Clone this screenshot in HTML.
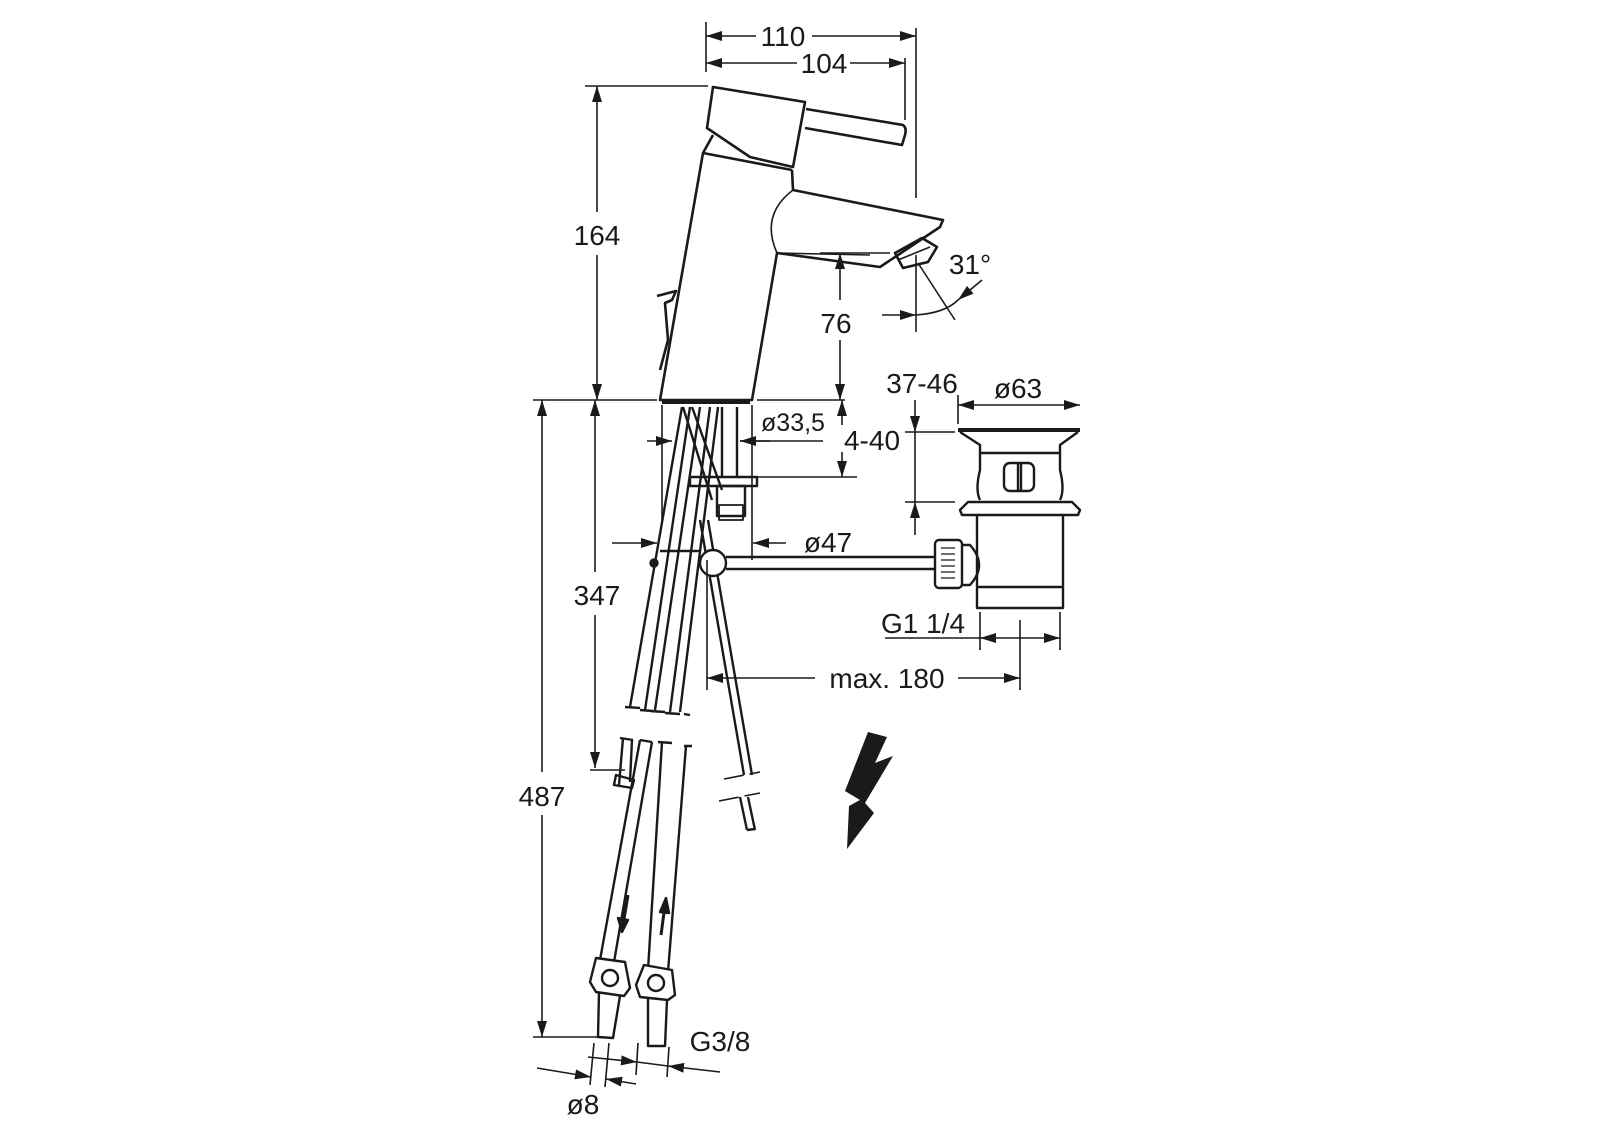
<!DOCTYPE html>
<html><head><meta charset="utf-8"><style>
html,body{margin:0;padding:0;background:#fff;}
svg{display:block;}
text{font-family:"Liberation Sans",sans-serif;font-size:28px;fill:#1a1a1a;}
</style></head><body>
<svg width="1600" height="1131" viewBox="0 0 1600 1131" xmlns="http://www.w3.org/2000/svg">
<defs>
<marker id="a" viewBox="0 0 16 10" refX="16" refY="5" markerWidth="16" markerHeight="10" markerUnits="userSpaceOnUse" orient="auto-start-reverse"><path d="M0,0 L16,5 L0,10 z" fill="#1a1a1a"/></marker>
</defs>
<g stroke="#1a1a1a" fill="none" stroke-width="1.6">
<!-- top dims -->
<line x1="706" y1="22" x2="706" y2="72"/>
<line x1="916" y1="28" x2="916" y2="198"/>
<line x1="905" y1="58" x2="905" y2="120"/>
<line x1="706" y1="36" x2="756" y2="36" marker-start="url(#a)"/>
<line x1="812" y1="36" x2="916" y2="36" marker-end="url(#a)"/>
<line x1="706" y1="63" x2="797" y2="63" marker-start="url(#a)"/>
<line x1="850" y1="63" x2="905" y2="63" marker-end="url(#a)"/>
<!-- 164 -->
<line x1="585" y1="86" x2="708" y2="86"/>
<line x1="597" y1="86" x2="597" y2="212" marker-start="url(#a)"/>
<line x1="597" y1="255" x2="597" y2="400" marker-end="url(#a)"/>
<!-- ground line -->
<line x1="533" y1="400" x2="657" y2="400"/>
<line x1="757" y1="400" x2="845" y2="400"/>
<!-- 76 -->
<line x1="840" y1="253" x2="840" y2="300" marker-start="url(#a)"/>
<line x1="840" y1="340" x2="840" y2="400" marker-end="url(#a)"/>
<line x1="820" y1="253" x2="890" y2="253"/>
<!-- 31 deg -->
<line x1="916" y1="255" x2="916" y2="332"/>
<line x1="918" y1="263" x2="955" y2="320"/>
<line x1="882" y1="315" x2="916" y2="315" marker-end="url(#a)"/>
<path d="M916,315 Q945,313 958,300"/>
<line x1="982" y1="280" x2="958" y2="300" marker-end="url(#a)"/>
</g>
<g stroke="#1a1a1a" fill="none" stroke-width="2.6" stroke-linejoin="round">
<path d="M713,87 L805,102 L793,167 L750,157 L707,128 Z"/>
<path d="M806,109 L903,125 Q907,128 905,135 L902,145 L805,128"/>
<path d="M713,135 L703,153 L792,170"/>
<path d="M703,153 L660,400 L752,400 L777,253 L880,267 L940,227 L943,220 L793,190 L792,170"/>
<path d="M793,190 Q760,215 777,253" stroke-width="1.6"/>
<path d="M777,253 L870,255" stroke-width="1.6"/>
<path d="M895,253 L922,238 L937,247 L928,262 L903,268 Z"/>
<path d="M898,260 L930,247" stroke-width="1.6"/>
<path d="M657,296 L676,291 L672,300 L665,303 L668,340 L660,370"/>
<path d="M662,402 L750,402" stroke-width="4"/>
</g>
<g stroke="#1a1a1a" fill="none" stroke-width="1.6">
<line x1="662" y1="405" x2="662" y2="520"/>
<line x1="752" y1="405" x2="752" y2="560"/>
<!-- ø33,5 -->
<line x1="647" y1="441" x2="672" y2="441" marker-end="url(#a)"/>
<line x1="770" y1="441" x2="740" y2="441" marker-end="url(#a)"/>
<line x1="740" y1="441" x2="823" y2="441"/>
<!-- 4-40 -->
<line x1="842" y1="400" x2="842" y2="425" marker-start="url(#a)"/>
<line x1="842" y1="452" x2="842" y2="477" marker-end="url(#a)"/>
<line x1="755" y1="477" x2="857" y2="477"/>
<!-- ø47 -->
<line x1="612" y1="543" x2="657" y2="543" marker-end="url(#a)"/>
<line x1="786" y1="543" x2="753" y2="543" marker-end="url(#a)"/>
</g>
<g stroke="#1a1a1a" fill="none" stroke-width="2.4" stroke-linejoin="round">
<line x1="682" y1="407" x2="630" y2="707"/>
<line x1="690" y1="407" x2="645" y2="710"/>
<line x1="700" y1="407" x2="655" y2="710"/>
<line x1="710" y1="407" x2="670" y2="712"/>
<line x1="718" y1="407" x2="680" y2="712"/>
<line x1="683" y1="407" x2="712" y2="500"/>
<line x1="692" y1="407" x2="722" y2="490"/>
<line x1="722" y1="407" x2="722" y2="477"/>
<line x1="737" y1="407" x2="737" y2="477"/>
<rect x="690" y="477" width="67" height="9"/>
<rect x="717" y="486" width="28" height="30"/>
<rect x="719" y="505" width="24" height="15" stroke-width="1.8"/>
<path d="M625,707 L640,708 M640,710 L653,711 M650,711 L665,712 M665,713 L680,714 M684,714 L690,715"/>
<line x1="700" y1="520" x2="744" y2="775"/>
<line x1="708" y1="520" x2="752" y2="775"/>
<line x1="748" y1="797" x2="755" y2="830"/>
<line x1="740" y1="797" x2="747" y2="830"/>
<line x1="747" y1="830" x2="755" y2="829"/>
<path d="M724,779 L760,772 M719,801 L760,793" stroke-width="1.6" stroke-dasharray="20,6"/>
<circle cx="654" cy="563" r="3.5" fill="#1a1a1a"/>
<line x1="660" y1="551" x2="700" y2="551"/>
<circle cx="713" cy="563" r="13" fill="#fff"/>
<line x1="726" y1="557" x2="935" y2="557"/>
<line x1="726" y1="569" x2="935" y2="569"/>
<path d="M623,738 L619,785 M632,740 L630,782"/>
<path d="M616,775 L634,780 L632,788 L614,785 Z"/>
<line x1="640" y1="740" x2="600" y2="960"/>
<line x1="652" y1="742" x2="614" y2="962"/>
<line x1="662" y1="742" x2="648" y2="970"/>
<line x1="686" y1="746" x2="668" y2="972"/>
<path d="M620,738 L633,740 M640,740 L652,742 M658,742 L672,743 M684,746 L692,746"/>
<path d="M596,958 L625,962 L630,988 L624,996 L596,992 L590,982 Z" fill="#fff"/>
<circle cx="610" cy="978" r="8"/>
<path d="M644,965 L672,970 L675,995 L668,1000 L640,997 L636,985 Z" fill="#fff"/>
<circle cx="656" cy="983" r="8"/>
<path d="M599,992 L598,1037 L613,1038 L620,996"/>
<path d="M648,998 L648,1046 L665,1046 L667,1000"/>
<path d="M628,895 L623,925" stroke-width="3"/>
<path d="M618,918 L622,932 L628,920 Z" fill="#1a1a1a"/>
<path d="M661,935 L665,905" stroke-width="3"/>
<path d="M660,912 L666,898 L669,913 Z" fill="#1a1a1a"/>
<!-- drain -->
<path d="M958,430 L1080,430" stroke-width="4"/>
<path d="M960,432 L980,445 L980,470 Q975,490 980,500 M1078,432 L1060,445 L1060,470 Q1065,490 1060,500"/>
<line x1="980" y1="453" x2="1060" y2="453"/>
<rect x="1004" y="463" width="30" height="28" rx="6"/>
<line x1="1018" y1="463" x2="1018" y2="491"/>
<line x1="1021" y1="463" x2="1021" y2="491"/>
<path d="M968,502 L1072,502 L1080,510 L1078,515 L962,515 L960,510 Z"/>
<path d="M977,515 L977,608 L1063,608 L1063,515"/>
<line x1="977" y1="587" x2="1063" y2="587"/>
<rect x="935" y="540" width="27" height="48" rx="4"/>
<path d="M962,545 L970,545 Q988,565 970,585 L962,585"/>
<path d="M941,548 L955,548 M941,554 L955,554 M941,560 L955,560 M941,566 L955,566 M941,572 L955,572 M941,578 L955,578" stroke-width="1.2"/>
</g>
<g stroke="#1a1a1a" fill="none" stroke-width="1.6">
<line x1="905" y1="432" x2="955" y2="432"/>
<line x1="905" y1="502" x2="955" y2="502"/>
<line x1="915" y1="400" x2="915" y2="432" marker-end="url(#a)"/>
<line x1="915" y1="535" x2="915" y2="502" marker-end="url(#a)"/>
<line x1="915" y1="432" x2="915" y2="502"/>
<line x1="958" y1="395" x2="958" y2="424"/>
<line x1="958" y1="405" x2="1080" y2="405" marker-start="url(#a)" marker-end="url(#a)"/>
<line x1="980" y1="612" x2="980" y2="650"/>
<line x1="1060" y1="612" x2="1060" y2="650"/>
<line x1="885" y1="638" x2="980" y2="638"/>
<line x1="980" y1="638" x2="1060" y2="638" marker-start="url(#a)" marker-end="url(#a)"/>
<line x1="1020" y1="620" x2="1020" y2="690"/>
<line x1="707" y1="560" x2="707" y2="690"/>
<line x1="707" y1="678" x2="815" y2="678" marker-start="url(#a)"/>
<line x1="958" y1="678" x2="1020" y2="678" marker-end="url(#a)"/>
<!-- 347 -->
<line x1="595" y1="400" x2="595" y2="572" marker-start="url(#a)"/>
<line x1="595" y1="615" x2="595" y2="768" marker-end="url(#a)"/>
<line x1="590" y1="770" x2="625" y2="770"/>
<!-- 487 -->
<line x1="542" y1="400" x2="542" y2="772" marker-start="url(#a)"/>
<line x1="542" y1="815" x2="542" y2="1037" marker-end="url(#a)"/>
<line x1="533" y1="1037" x2="600" y2="1037"/>
<!-- ø8 / G3/8 -->
<line x1="594" y1="1043" x2="590" y2="1085"/>
<line x1="609" y1="1043" x2="605" y2="1087"/>
<line x1="638" y1="1043" x2="636" y2="1075"/>
<line x1="669" y1="1047" x2="667" y2="1077"/>
<line x1="537" y1="1068" x2="591" y2="1077" marker-end="url(#a)"/>
<line x1="636" y1="1084" x2="606" y2="1079" marker-end="url(#a)"/>
<line x1="588" y1="1057" x2="637" y2="1062" marker-end="url(#a)"/>
<line x1="720" y1="1072" x2="668" y2="1066" marker-end="url(#a)"/>
<line x1="637" y1="1062" x2="668" y2="1066"/>
</g>
<polygon points="868,732 887,737 875,763 893,756 865,803 874,813 847,849 849,806 860,800 845,791" fill="#1a1a1a"/>
<text x="783" y="46" text-anchor="middle">110</text>
<text x="824" y="73" text-anchor="middle">104</text>
<text x="597" y="245" text-anchor="middle">164</text>
<text x="836" y="333" text-anchor="middle">76</text>
<text x="970" y="274" text-anchor="middle">31°</text>
<text x="922" y="393" text-anchor="middle">37-46</text>
<text x="1018" y="398" text-anchor="middle">ø63</text>
<text x="793" y="431" text-anchor="middle" style="font-size:25px">ø33,5</text>
<text x="872" y="450" text-anchor="middle">4-40</text>
<text x="828" y="552" text-anchor="middle">ø47</text>
<text x="597" y="605" text-anchor="middle">347</text>
<text x="923" y="633" text-anchor="middle">G1 1/4</text>
<text x="887" y="688" text-anchor="middle">max. 180</text>
<text x="542" y="806" text-anchor="middle">487</text>
<text x="720" y="1051" text-anchor="middle">G3/8</text>
<text x="583" y="1114" text-anchor="middle">ø8</text>
</svg>
</body></html>
